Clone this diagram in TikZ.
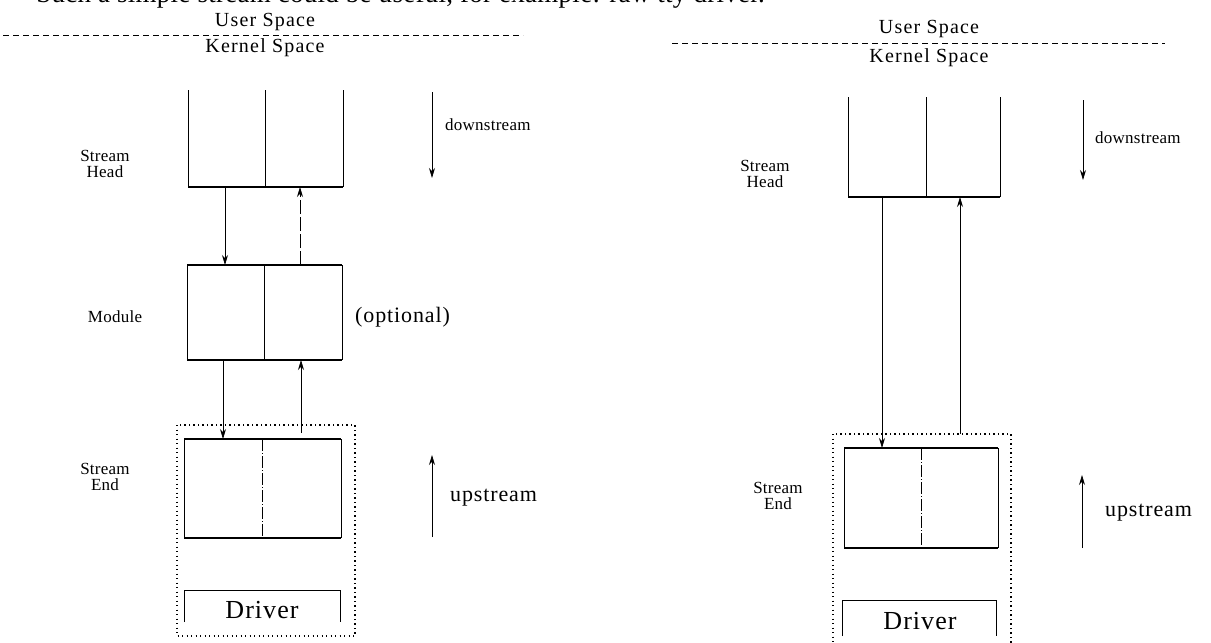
\documentclass[tikz,border=0pt]{standalone}
\usepackage{fontspec}
\setmainfont{Liberation Serif}
\usetikzlibrary{arrows.meta}
\begin{document}
\begin{tikzpicture}[x=1pt,y=-1pt,
  lbl/.style={font=\fontsize{17}{16}\selectfont\addfontfeatures{LetterSpace=1.5}, align=center, inner sep=0pt},
  biglbl/.style={font=\fontsize{22}{24}\selectfont\addfontfeatures{LetterSpace=4}, inner sep=0pt},
  spacelbl/.style={font=\fontsize{20}{22}\selectfont\addfontfeatures{LetterSpace=6}, inner sep=0pt, anchor=base},
  drv/.style={font=\fontsize{26}{28}\selectfont\addfontfeatures{LetterSpace=4}, inner sep=0pt},
  boxnode/.style={draw=none, inner sep=0pt, outer sep=0pt, rectangle},
  side/.style={line width=0.8pt},
  edge/.style={line width=1.5pt},
  mid/.style={line width=0.7pt},
  midd/.style={line width=0.7pt, dash pattern=on 12pt off 2pt on 1pt off 2pt},
  sep/.style={line width=1pt, dash pattern=on 6pt off 4pt},
  dotbox/.style={line width=1.2pt, dash pattern=on 1.2pt off 3.3pt},
  arr/.style={line width=0.8pt, -{Stealth[length=10pt,width=6pt]}},
  arrd/.style={arr, dash pattern=on 14pt off 3pt}
]
\useasboundingbox (0,0) rectangle (1211,643);
\begin{scope}
\clip (0,0) rectangle (1211,643);
\node[font=\fontsize{27}{28}\selectfont\addfontfeatures{LetterSpace=1}, anchor=base east, inner sep=0pt] (toptext) at (765,2) {Such a simple stream could be useful, for example: raw tty driver.};

% ---------------- left diagram ----------------
\node[spacelbl] (user1) at (265,26) {User Space};
\node[spacelbl] (kern1) at (265,52) {Kernel Space};
\coordinate (sepA1) at (3,35);
\coordinate (sepB1) at (523,35);
\draw[sep] (sepA1) -- (sepB1);

% stream head
\node[boxnode, minimum width=155pt, minimum height=97pt] (head1) at (265.5,138.5) {};
\draw[side] (head1.north west) -- (head1.south west);
\draw[side] (head1.north east) -- (head1.south east);
\draw[edge] (head1.south west) -- (head1.south east);
\draw[mid] (head1.north) -- (head1.south);
\node[lbl] (headlbl1) at (105,164) {Stream\\Head};

% module
\node[boxnode, minimum width=155pt, minimum height=95pt] (mod1) at (264.5,312.5) {};
\draw[side] (mod1.north west) -- (mod1.south west);
\draw[side] (mod1.north east) -- (mod1.south east);
\draw[edge] (mod1.north west) -- (mod1.north east);
\draw[edge] (mod1.south west) -- (mod1.south east);
\draw[mid] (mod1.north) -- (mod1.south);
\node[lbl] (modlbl1) at (115,317) {Module};
\node[biglbl, anchor=west] (opt1) at (355,317) {(optional)};

% dotted box
\node[boxnode, minimum width=178pt, minimum height=211pt] (dot1) at (266,530.5) {};
\draw[dotbox] (dot1.north west) rectangle (dot1.south east);

% stream end
\node[boxnode, minimum width=157pt, minimum height=99pt] (end1) at (262.5,488.5) {};
\draw[side] (end1.north west) -- (end1.south west);
\draw[side] (end1.north east) -- (end1.south east);
\draw[edge] (end1.north west) -- (end1.north east);
\draw[edge] (end1.south west) -- (end1.south east);
\draw[midd] (end1.north) -- (end1.south);
\node[lbl] (endlbl1) at (105,477) {Stream\\End};

% driver
\node[boxnode, minimum width=156pt, minimum height=32pt] (drv1) at (262,606) {};
\draw[side] (drv1.south west) -- (drv1.north west) -- (drv1.north east) -- (drv1.south east);
\node[drv] (drvtxt1) at (262,610) {Driver};

% connectors
\draw[arr] (head1.south -| 225,0) -- (mod1.north -| 225,0);
\draw[arrd] (mod1.north -| 300,0) -- (head1.south -| 300,0);
\draw[arr] (mod1.south -| 223,0) -- (end1.north -| 223,0);
\draw[arr] (dot1.north -| 301,0) ++(0,8) -- (mod1.south -| 301,0);

% direction arrows
\coordinate (dnA1) at (432,92);
\coordinate (dnB1) at (432,178);
\draw[arr] (dnA1) -- (dnB1);
\node[lbl, anchor=west] (dnlbl1) at (445,125) {downstream};
\coordinate (upA1) at (432,537);
\coordinate (upB1) at (432,455);
\draw[arr] (upA1) -- (upB1);
\node[biglbl, anchor=west] (uplbl1) at (450,498) {upstream};

% ---------------- right diagram ----------------
\node[spacelbl] (user2) at (929,33) {User Space};
\node[spacelbl] (kern2) at (929,62) {Kernel Space};
\coordinate (sepA2) at (672,43);
\coordinate (sepB2) at (1165,43);
\draw[sep] (sepA2) -- (sepB2);

% stream head
\node[boxnode, minimum width=152pt, minimum height=100pt] (head2) at (924,147) {};
\draw[side] (head2.north west) -- (head2.south west);
\draw[side] (head2.north east) -- (head2.south east);
\draw[edge] (head2.south west) -- (head2.south east);
\draw[mid] (926,97) -- (926,197);
\node[lbl] (headlbl2) at (765,174) {Stream\\Head};

% dotted box
\node[boxnode, minimum width=178pt, minimum height=220pt] (dot2) at (922,544) {};
\draw[dotbox] (dot2.north west) rectangle (dot2.south east);

% stream end
\node[boxnode, minimum width=154pt, minimum height=100pt] (end2) at (921,498) {};
\draw[side] (end2.north west) -- (end2.south west);
\draw[side] (end2.north east) -- (end2.south east);
\draw[edge] (end2.north west) -- (end2.north east);
\draw[edge] (end2.south west) -- (end2.south east);
\draw[midd] (end2.north) -- (end2.south);
\node[lbl] (endlbl2) at (778,496) {Stream\\End};

% driver
\node[boxnode, minimum width=154pt, minimum height=36pt] (drv2) at (919,618) {};
\draw[side] (drv2.south west) -- (drv2.north west) -- (drv2.north east) -- (drv2.south east);
\node[drv] (drvtxt2) at (920,621) {Driver};

% connectors
\draw[arr] (head2.south -| 882,0) -- (end2.north -| 882,0);
\draw[arr] (dot2.north -| 960,0) -- (head2.south -| 960,0);

% direction arrows
\coordinate (dnA2) at (1083,100);
\coordinate (dnB2) at (1083,180);
\draw[arr] (dnA2) -- (dnB2);
\node[lbl, anchor=west] (dnlbl2) at (1095,138) {downstream};
\coordinate (upA2) at (1082,548);
\coordinate (upB2) at (1082,475);
\draw[arr] (upA2) -- (upB2);
\node[biglbl, anchor=west] (uplbl2) at (1105,513) {upstream};
\end{scope}
\end{tikzpicture}
\end{document}
